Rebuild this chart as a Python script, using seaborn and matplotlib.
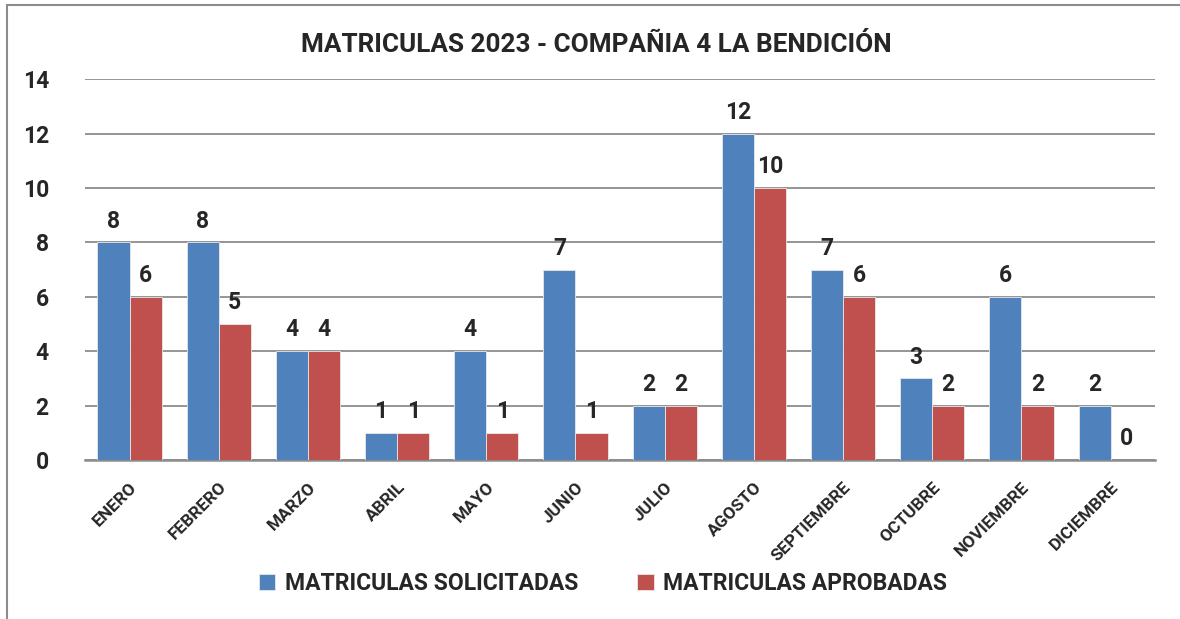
import pandas as pd
import matplotlib
matplotlib.use('Agg')
import matplotlib.pyplot as plt
import seaborn as sns
from matplotlib.patches import Rectangle

# datos
meses = ['ENERO', 'FEBRERO', 'MARZO', 'ABRIL', 'MAYO', 'JUNIO', 'JULIO',
         'AGOSTO', 'SEPTIEMBRE', 'OCTUBRE', 'NOVIEMBRE', 'DICIEMBRE']
solicitadas = [8, 8, 4, 1, 4, 7, 2, 12, 7, 3, 6, 2]
aprobadas = [6, 5, 4, 1, 1, 1, 2, 10, 6, 2, 2, 0]
series = ['MATRICULAS SOLICITADAS', 'MATRICULAS APROBADAS']
colores = ['#4F81BD', '#C0504D']

df = pd.DataFrame({
    'mes': meses * 2,
    'valor': solicitadas + aprobadas,
    'serie': [series[0]] * len(meses) + [series[1]] * len(meses),
})

sns.set_style('white')
plt.rcParams['font.family'] = ['Roboto', 'DejaVu Sans']
plt.rcParams['font.weight'] = 'bold'

fig = plt.figure(figsize=(11.8, 6.19), dpi=100)
ax = fig.add_axes([0.072, 0.257, 0.907, 0.615])

sns.barplot(data=df, x='mes', y='valor', hue='serie', palette=colores,
            width=0.72, edgecolor='#e8e8e8', linewidth=0.6, saturation=1,
            ax=ax, legend=True, zorder=3)

# etiquetas de valor encima de cada barra
for cont in ax.containers:
    ax.bar_label(cont, padding=7, fontsize=16.5, fontweight='bold')

ax.set_ylim(0, 14)
ax.set_yticks(range(0, 15, 2))
ax.set_xlim(-0.5, 11.5)
ax.yaxis.grid(True, color='#8c8c8c', linewidth=1.3, zorder=0)
ax.set_axisbelow(True)
for s in ['left', 'right', 'top']:
    ax.spines[s].set_visible(False)
ax.spines['bottom'].set_color('#8c8c8c')
ax.spines['bottom'].set_linewidth(1.8)
ax.tick_params(axis='both', length=0)
ax.tick_params(axis='y', labelsize=16.5, pad=26)
ax.set_xlabel('')
ax.set_ylabel('')
plt.setp(ax.get_yticklabels(), fontweight='bold')
plt.setp(ax.get_xticklabels(), rotation=45, ha='right', rotation_mode='anchor',
         fontsize=12.5, fontweight='bold')
ax.tick_params(axis='x', pad=14)

# leyenda abajo
ax.get_legend().remove()
handles, labels = ax.get_legend_handles_labels()
fig.legend(handles, labels, loc='center', bbox_to_anchor=(0.511, 0.058), ncol=2,
           frameon=False, prop={'weight': 'bold', 'size': 16.5},
           handlelength=0.7, handleheight=0.7, columnspacing=2.6, handletextpad=0.4)

fig.text(0.505, 0.927, 'MATRICULAS 2023 - COMPAÑIA 4 LA BENDICIÓN', ha='center',
         va='center', fontsize=18.8, fontweight='bold')

# marco gris
fig.patches.append(Rectangle((0.006, -0.1), 1.2, 1.092, transform=fig.transFigure,
                             fill=False, edgecolor='#8c8c8c', linewidth=1.5))

plt.savefig('out.png', dpi=100)
